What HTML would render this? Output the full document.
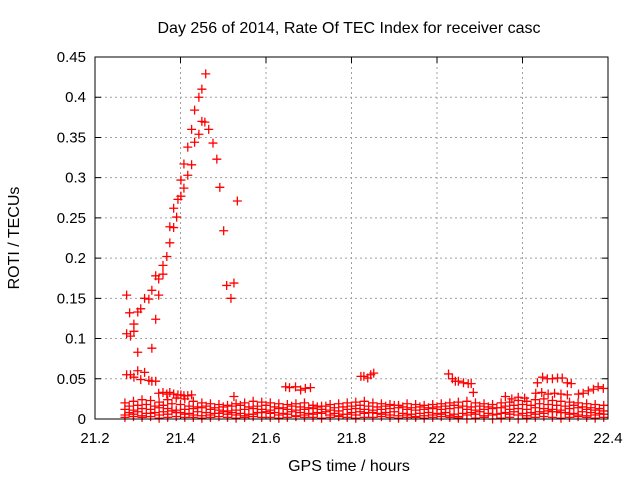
<!DOCTYPE html>
<html><head><meta charset="utf-8"><style>
html,body{margin:0;padding:0;background:#fff;}
svg{display:block;font-family:"Liberation Sans",sans-serif;}
</style></head><body>
<svg id="chart" width="640" height="480" viewBox="0 0 640 480"></svg>
<script>
// ---- data ----
const xTicks = [21.2, 21.4, 21.6, 21.8, 22, 22.2, 22.4];
const xTickLabels = ["21.2", "21.4", "21.6", "21.8", "22", "22.2", "22.4"];
const yTicks = [0, 0.05, 0.1, 0.15, 0.2, 0.25, 0.3, 0.35, 0.4, 0.45];
const yTickLabels = ["0", "0.05", "0.1", "0.15", "0.2", "0.25", "0.3", "0.35", "0.4", "0.45"];

const peakTimes = [21.459,21.450,21.443,21.433,21.450,21.457,21.426,21.466,21.443,21.433,21.476,21.417,21.485,21.408,21.426,21.417,21.401,21.408,21.492,21.401,21.394,21.384,21.533,21.391,21.375,21.384,21.501,21.375,21.368,21.359,21.342,21.359,21.349,21.333,21.274,21.349,21.508,21.525,21.518,21.316,21.326,21.307,21.281,21.300,21.342,21.291,21.291,21.274,21.283,21.300,21.333];
const peakValues = [0.429,0.410,0.400,0.384,0.370,0.369,0.360,0.360,0.354,0.344,0.343,0.338,0.323,0.317,0.316,0.303,0.297,0.287,0.288,0.277,0.273,0.262,0.271,0.251,0.239,0.238,0.234,0.219,0.202,0.191,0.178,0.180,0.174,0.160,0.154,0.154,0.166,0.169,0.150,0.150,0.149,0.137,0.132,0.133,0.124,0.118,0.109,0.106,0.103,0.083,0.088];

const groupTimes = [21.274,21.283,21.291,21.300,21.307,21.316,21.326,21.333,21.342,21.349,21.359,21.368,21.375,21.384,21.394,21.401,21.408,21.417,21.426,21.525,
 21.646,21.655,21.669,21.681,21.692,21.704,
 21.822,21.829,21.838,21.845,21.852,
 22.027,22.036,22.043,22.050,22.062,22.073,22.080,22.085,
 22.235,22.247,22.258,22.270,22.282,22.293,22.305,22.314,
 22.231,22.245,22.260,22.275,22.290,22.305,
 22.331,22.342,22.354,22.366,22.377,22.389,
 22.160,22.175,22.190,22.205];
const groupValues = [0.055,0.055,0.052,0.060,0.049,0.058,0.048,0.047,0.047,0.032,0.033,0.031,0.033,0.031,0.030,0.030,0.029,0.029,0.030,0.028,
 0.040,0.039,0.040,0.036,0.038,0.039,
 0.053,0.053,0.051,0.055,0.057,
 0.056,0.050,0.047,0.047,0.045,0.044,0.044,0.033,
 0.045,0.052,0.050,0.050,0.051,0.051,0.045,0.044,
 0.032,0.033,0.031,0.032,0.031,0.030,
 0.031,0.032,0.035,0.037,0.040,0.038,
 0.028,0.025,0.027,0.026];

const bandTimes = [21.27,21.29,21.31,21.33,21.35,21.37,21.39,21.41,21.43,21.45,21.47,21.49,21.51,21.53,21.55,21.57,21.59,21.61,21.63,21.65,21.67,21.69,21.71,21.73,21.75,21.77,21.79,21.81,21.83,21.85,21.87,21.89,21.91,21.93,21.95,21.97,21.99,22.01,22.03,22.05,22.07,22.09,22.11,22.13,22.15,22.17,22.19,22.21,22.23,22.25,22.27,22.29,22.31,22.33,22.35,22.37,22.39];
const bandLow = [0.005,0.006,0.004,0.007,0.005,0.006,0.008,0.006,0.005,0.004,0.005,0.007,0.006,0.005,0.004,0.006,0.008,0.007,0.005,0.006,0.004,0.005,0.006,0.007,0.005,0.004,0.006,0.005,0.007,0.008,0.006,0.005,0.004,0.005,0.003,0.004,0.005,0.006,0.004,0.003,0.005,0.006,0.004,0.005,0.007,0.006,0.005,0.004,0.006,0.007,0.009,0.008,0.006,0.005,0.004,0.005,0.006];
const bandBottom = [0.002,0.003,0.002,0.003,0.001,0.002,0.003,0.002,0.002,0.001,0.002,0.003,0.002,0.001,0.002,0.003,0.002,0.002,0.001,0.002,0.003,0.002,0.002,0.001,0.002,0.003,0.002,0.001,0.002,0.002,0.003,0.002,0.001,0.002,0.002,0.001,0.002,0.003,0.002,0.001,0.000,0.001,0.002,0.000,0.001,0.002,0.000,0.001,0.002,0.003,0.002,0.001,0.002,0.003,0.002,0.001,0.002];
const bandMid = [0.012,0.011,0.013,0.012,0.014,0.013,0.011,0.012,0.013,0.014,0.012,0.011,0.010,0.011,0.012,0.013,0.012,0.011,0.013,0.012,0.011,0.012,0.013,0.012,0.011,0.010,0.012,0.013,0.012,0.011,0.012,0.013,0.014,0.012,0.011,0.012,0.013,0.012,0.013,0.014,0.012,0.011,0.012,0.013,0.014,0.012,0.013,0.012,0.014,0.013,0.012,0.011,0.013,0.014,0.012,0.011,0.010];
const bandHigh = [0.020,0.022,0.024,0.023,0.021,0.024,0.026,0.025,0.022,0.020,0.019,0.018,0.017,0.019,0.020,0.022,0.021,0.020,0.019,0.018,0.019,0.020,0.017,0.016,0.018,0.019,0.020,0.021,0.022,0.020,0.019,0.018,0.017,0.019,0.018,0.017,0.018,0.019,0.020,0.021,0.022,0.020,0.019,0.018,0.020,0.021,0.023,0.022,0.024,0.025,0.023,0.022,0.021,0.020,0.019,0.018,0.017];

const bandTimes2 = [21.28,21.30,21.32,21.34,21.36,21.38,21.40,21.42,21.44,21.46,21.48,21.50,21.52,21.54,21.56,21.58,21.60,21.62,21.64,21.66,21.68,21.70,21.72,21.74,21.76,21.78,21.80,21.82,21.84,21.86,21.88,21.90,21.92,21.94,21.96,21.98,22.00,22.02,22.04,22.06,22.08,22.10,22.12,22.14,22.16,22.18,22.20,22.22,22.24,22.26,22.28,22.30,22.32,22.34,22.36,22.38];
const bandLow2 = [0.008,0.009,0.007,0.008,0.009,0.010,0.008,0.007,0.009,0.008,0.007,0.009,0.008,0.007,0.006,0.008,0.009,0.008,0.007,0.009,0.008,0.007,0.008,0.009,0.007,0.006,0.008,0.009,0.008,0.007,0.008,0.009,0.007,0.006,0.007,0.008,0.007,0.008,0.006,0.007,0.008,0.009,0.007,0.006,0.008,0.009,0.007,0.008,0.009,0.010,0.009,0.008,0.007,0.009,0.008,0.007];
const bandMid2 = [0.016,0.017,0.018,0.016,0.017,0.019,0.018,0.016,0.015,0.016,0.014,0.015,0.016,0.017,0.015,0.016,0.017,0.015,0.014,0.016,0.015,0.014,0.015,0.016,0.014,0.015,0.016,0.017,0.016,0.015,0.016,0.017,0.015,0.014,0.015,0.014,0.015,0.016,0.017,0.016,0.015,0.016,0.015,0.014,0.016,0.017,0.018,0.017,0.019,0.018,0.017,0.016,0.017,0.015,0.014,0.013];

// ---- layout ----
const L=95,R=608,T=57,B=419;
const X0=21.2,X1=22.4,Y0=0,Y1=0.45;
function xs(v){return L+(v-X0)/(X1-X0)*(R-L);}
function ys(v){return B-(v-Y0)/(Y1-Y0)*(B-T);}
const NS="http://www.w3.org/2000/svg";
const svg=document.getElementById('chart');
function mk(tag,attrs,parent){const e=document.createElementNS(NS,tag);for(const k in attrs)e.setAttribute(k,attrs[k]);(parent||svg).appendChild(e);return e;}

const title=mk('text',{x:349,y:33,'text-anchor':'middle','font-size':16,fill:'#000'});


title.textContent='Day 256 of 2014, Rate Of TEC Index for receiver casc';

const grid=mk('g',{});


xTicks.forEach((t,i)=>{
  if(i>0&&i<xTicks.length-1){const g=mk('line',{x1:xs(t),x2:xs(t),y1:T,y2:B,stroke:'#a0a0a0','stroke-dasharray':'2,3'},grid);
  
  }
  const tk=mk('path',{d:`M${xs(t)},${B}v-6M${xs(t)},${T}v6`,stroke:'#000'});
  
  
  const lb=mk('text',{x:xs(t),y:443,'text-anchor':'middle','font-size':15,fill:'#000'});
  
  
  lb.textContent=xTickLabels[i];
});
yTicks.forEach((t,i)=>{
  if(i>0&&i<yTicks.length-1){const g=mk('line',{x1:L,x2:R,y1:ys(t),y2:ys(t),stroke:'#a0a0a0','stroke-dasharray':'2,3'},grid);
  
  }
  const tk=mk('path',{d:`M${L},${ys(t)}h6M${R},${ys(t)}h-6`,stroke:'#000'});
  
  
  const lb=mk('text',{x:86,y:ys(t)+5,'text-anchor':'end','font-size':15,fill:'#000'});
  
  
  lb.textContent=yTickLabels[i];
});

const pts=mk('g',{stroke:'#ff0000','stroke-width':1.3,fill:'none'});


function plot(times,vals){
  times.forEach((t,i)=>{
    const x=xs(t),y=ys(vals[i]);
    const p=mk('path',{d:`M${x-4.5},${y}h9M${x},${y-4.5}v9`},pts);
    
    
  });
}
plot(bandTimes,bandBottom);
plot(bandTimes,bandLow);
plot(bandTimes,bandMid);
plot(bandTimes,bandHigh);
plot(bandTimes2,bandLow2);
plot(bandTimes2,bandMid2);
plot(groupTimes,groupValues);
plot(peakTimes,peakValues);

const frame=mk('rect',{x:L,y:T,width:R-L,height:B-T,fill:'none',stroke:'#000'});



const xl=mk('text',{x:349,y:471,'text-anchor':'middle','font-size':16,fill:'#000'});


xl.textContent='GPS time / hours';
const yl=mk('text',{x:0,y:0,'text-anchor':'middle','font-size':16,fill:'#000',transform:'translate(19,238) rotate(-90)'});


yl.textContent='ROTI / TECUs';
</script>
</body></html>
